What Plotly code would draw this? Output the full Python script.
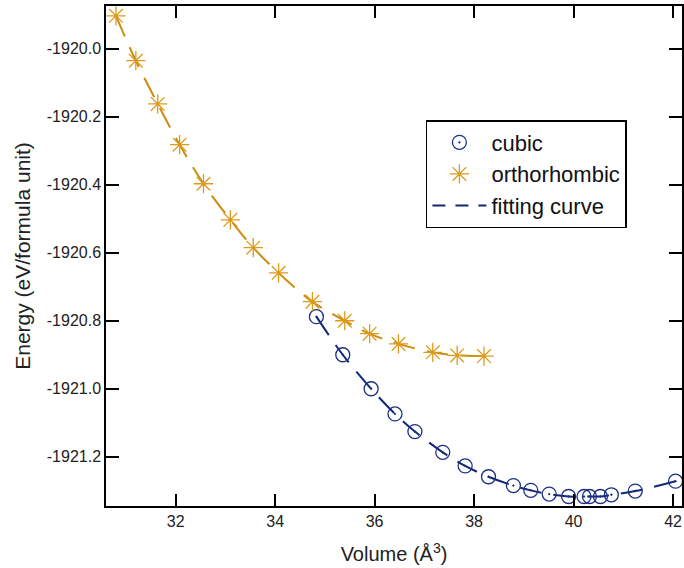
import plotly.graph_objects as go

# Data
ortho_vol = [30.80, 31.20, 31.64, 32.08, 32.56, 33.10, 33.56, 34.07, 34.75,
             35.40, 35.90, 36.48, 37.17, 37.66, 38.20]
ortho_e = [-1919.903, -1920.035, -1920.162, -1920.282, -1920.397, -1920.503,
           -1920.585, -1920.659, -1920.744, -1920.800, -1920.838, -1920.868,
           -1920.893, -1920.902, -1920.904]

cubic_vol = [34.83, 35.36, 35.93, 36.41, 36.81, 37.37, 37.82, 38.29, 38.79,
             39.14, 39.51, 39.90, 40.21, 40.32, 40.54, 40.76, 41.24, 42.05]
cubic_e = [-1920.788, -1920.900, -1921.000, -1921.074, -1921.126, -1921.187,
           -1921.227, -1921.259, -1921.285, -1921.299, -1921.310, -1921.317,
           -1921.317, -1921.317, -1921.317, -1921.312, -1921.301, -1921.272]

x_ticks = [32, 34, 36, 38, 40, 42]
y_ticks = [-1921.2, -1921.0, -1920.8, -1920.6, -1920.4, -1920.2, -1920.0]
y_ticktext = ["-1921.2", "-1921.0", "-1920.8", "-1920.6", "-1920.4", "-1920.2", "-1920.0"]

NAVY = "#132774"
ORANGE = "#dc9a1c"
FONT = "Liberation Sans, Arial, sans-serif"

fig = go.Figure()

# fitting curves
fig.add_trace(go.Scatter(x=ortho_vol, y=ortho_e, mode="lines", line_shape="spline",
                         line=dict(color="#cc8c10", width=2, dash="22px,12px"),
                         showlegend=False, hoverinfo="skip"))
fig.add_trace(go.Scatter(x=cubic_vol, y=cubic_e, mode="lines", line_shape="spline",
                         line=dict(color=NAVY, width=2, dash="22px,12px"),
                         showlegend=False, hoverinfo="skip"))

# markers
fig.add_trace(go.Scatter(x=cubic_vol, y=cubic_e, mode="markers", name="cubic",
                         marker=dict(symbol="circle-open-dot", size=14, color="#1c3185",
                                     line=dict(width=1.3, color="#1c3185"))))
fig.add_trace(go.Scatter(x=ortho_vol, y=ortho_e, mode="markers", name="orthorhombic",
                         marker=dict(symbol="asterisk-open", size=16, color=ORANGE,
                                     line=dict(width=1.3, color=ORANGE))))
# legend entry for the fitting curve
fig.add_trace(go.Scatter(x=[None], y=[None], mode="lines", name="fitting curve",
                         line=dict(color=NAVY, width=2, dash="13px,10px")))

axis_common = dict(showline=True, linecolor="black", linewidth=1.5, mirror="ticks",
                   ticks="inside", tickcolor="black", tickwidth=1.5, showgrid=False,
                   zeroline=False, tickfont=dict(family=FONT, size=16, color="#222"))

fig.update_layout(
    width=684, height=568,
    margin=dict(l=106, r=0, t=6, b=62),
    paper_bgcolor="white", plot_bgcolor="white",
    font=dict(family=FONT, color="#222"),
    xaxis=dict(range=[30.6, 42.18], tickvals=x_ticks, ticklen=12,
               title=dict(text="Volume (Å<sup>3</sup>)", font=dict(size=20), standoff=18),
               **axis_common),
    yaxis=dict(range=[-1921.345, -1919.874], tickvals=y_ticks, ticktext=y_ticktext,
               ticklen=13,
               title=dict(text="Energy (eV/formula unit)", font=dict(size=21), standoff=10),
               **axis_common),
    legend=dict(x=0.5554, y=0.772, xanchor="left", yanchor="top",
                bordercolor="black", borderwidth=1.5, bgcolor="white",
                font=dict(family=FONT, size=22, color="#111"),
                itemwidth=54, tracegroupgap=0),
    showlegend=True,
)

fig.write_html("out.html")
